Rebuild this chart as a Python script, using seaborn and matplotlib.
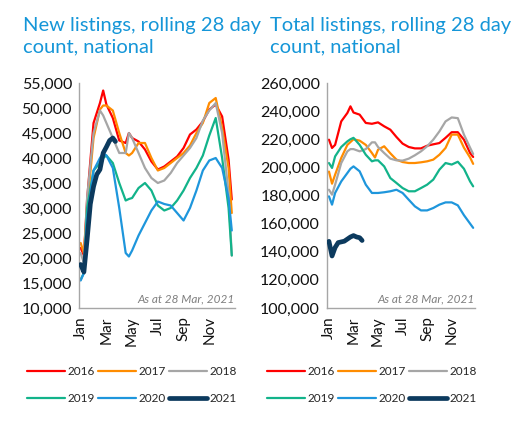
import pandas as pd
import matplotlib.pyplot as plt
import seaborn as sns

# x positions in months (0 = 1 Jan)
months = [0, 0.25, 0.5, 1, 1.5, 1.75, 2, 2.5, 3, 3.5, 3.75, 4, 4.5, 5, 5.5,
          6, 6.5, 7, 7.5, 8, 8.5, 9, 9.5, 10, 10.5, 11, 11.5, 11.75]
months_2021 = [0, 0.25, 0.5, 0.75, 1, 1.25, 1.5, 1.75, 2, 2.25, 2.5, 2.7]

years = ['2016', '2017', '2018', '2019', '2020', '2021']
colors = ['#FF0000', '#FF8C00', '#A6A6A6', '#12B38A', '#1E96DC', '#0C3A5E']

# New listings, rolling 28 day count
new_2016 = [22000, 20500, 31700, 47000, 51000, 53500, 50700, 48000, 43500, 43000, 45000, 44000, 43300, 41700,
            39300, 37700, 38300, 39300, 40300, 42000, 44700, 45700, 47300, 49700, 50700, 48300, 39700, 31700]
new_2017 = [23000, 21000, 30000, 44000, 49700, 50500, 50500, 49500, 45000, 41000, 40500, 41000, 43000, 43000,
            40000, 37500, 38000, 39000, 40000, 41000, 42500, 45000, 47000, 51000, 52000, 46000, 38000, 29000]
new_2018 = [21000, 19000, 32000, 45000, 49500, 48500, 47000, 44000, 41000, 41000, 45000, 44000, 41000, 38000,
            36000, 35000, 35500, 37000, 39000, 40500, 42000, 44000, 47500, 49500, 51000, 45000, 33000, 20500]
new_2019 = [15700, 17000, 30000, 37500, 39000, 40000, 40500, 39000, 35000, 31500, 31800, 32000, 34000, 35000,
            33500, 30500, 29500, 30000, 31500, 33500, 36000, 38000, 40500, 44500, 48000, 40000, 30000, 20500]
new_2020 = [15500, 17000, 28000, 37500, 40000, 41000, 40500, 38000, 30000, 21000, 20300, 21500, 24500, 27000,
            29500, 31300, 30800, 30500, 29000, 27500, 30000, 33500, 37500, 39500, 40000, 38000, 32000, 25500]
new_2021 = [18700, 17200, 23700, 30800, 34300, 36700, 37700, 41000, 42200, 43500, 44000, 43300]

# Total listings, rolling 28 day count
tot_2016 = [219700, 213800, 216000, 232700, 238700, 243400, 239000, 237500, 231600, 231000, 231500, 232000,
            229200, 226800, 221600, 216900, 214500, 213500, 213500, 215400, 216400, 217300, 221000, 225000,
            225000, 219700, 210200, 207400]
tot_2017 = [197000, 188400, 194800, 206700, 216000, 218000, 220000, 219000, 216000, 210200, 207000, 212600,
            215000, 210000, 205500, 203800, 203100, 203100, 203600, 204300, 205500, 209000, 213800, 223300,
            223300, 214000, 207000, 202500]
tot_2018 = [184100, 180600, 187700, 203100, 211400, 213000, 213000, 211400, 213000, 217800, 217800, 214500,
            210200, 206200, 205000, 204800, 206200, 208600, 211400, 215000, 219700, 225600, 232700, 235500,
            235000, 223300, 214000, 209500]
tot_2019 = [203100, 199600, 207800, 214500, 218500, 220000, 221000, 216000, 209000, 204300, 205000, 205000,
            200700, 192400, 188900, 185300, 183000, 183000, 185300, 187700, 191300, 198400, 203100, 202000,
            204000, 199000, 190000, 186500]
tot_2020 = [179400, 173500, 181800, 190000, 196000, 199000, 200700, 197200, 187700, 181800, 181800, 181800,
            182300, 183000, 184100, 181800, 177000, 172300, 169400, 169400, 171100, 173500, 175100, 175100,
            173000, 166000, 160000, 157000]
tot_2021 = [147400, 137000, 143000, 146500, 147000, 147500, 149000, 150500, 151500, 150500, 150000, 148000]

month_ticks = [0, 2, 4, 6, 8, 10]
month_labels = ['Jan', 'Mar', 'May', 'Jul', 'Sep', 'Nov']

sns.set_theme(style='white')
plt.rcParams['font.family'] = ['Lato', 'DejaVu Sans']

W, H = 514, 423
fig = plt.figure(figsize=(W / 100, H / 100), dpi=100)


def draw_panel(ax, series, ylim, yticks, xlim):
    for i, (y, vals) in enumerate(zip(years, series)):
        x = months_2021 if y == '2021' else months
        sns.lineplot(x=x, y=vals, ax=ax, color=colors[i], linewidth=3.4 if y == '2021' else 1.6,
                     label=y, zorder=3 if y == '2021' else 2)
    ax.set_xlim(*xlim)
    ax.set_ylim(*ylim)
    ax.set_yticks(yticks)
    ax.set_yticklabels([f'{v:,}' for v in yticks], fontsize=11.5, color='#111111')
    ax.set_xticks(month_ticks)
    ax.set_xticklabels(month_labels, rotation=90, fontsize=11, color='#111111')
    ax.tick_params(length=0, axis='y', pad=5)
    ax.tick_params(length=0, axis='x', pad=6)
    for s in ['top', 'right']:
        ax.spines[s].set_visible(False)
    for s in ['left', 'bottom']:
        ax.spines[s].set_color('#A6A6A6')
        ax.spines[s].set_linewidth(1.0)
    ax.text(0.995, 0.015, 'As at 28 Mar, 2021', transform=ax.transAxes, ha='right', va='bottom',
            fontsize=8.5, style='italic', color='#7F7F7F')
    ax.set_xlabel('')
    ax.set_ylabel('')


def add_legend(ax, x_px):
    h, l = ax.get_legend_handles_labels()
    order = [0, 3, 1, 4, 2, 5]
    ax.legend([h[k] for k in order], [l[k] for k in order], ncol=3, frameon=False,
              loc='upper left', bbox_to_anchor=(x_px / W, 1 - 366 / H), bbox_transform=fig.transFigure,
              fontsize=8.5, handlelength=3.2, handletextpad=0.25, columnspacing=0.25,
              labelspacing=1.35, borderpad=0, borderaxespad=0)


ax1 = fig.add_axes([79 / W, 1 - 308 / H, 156 / W, 225 / H])
draw_panel(ax1, [new_2016, new_2017, new_2018, new_2019, new_2020, new_2021], (10000, 55000),
           list(range(10000, 55001, 5000)), (-0.13, 12.0))
add_legend(ax1, 27)

ax2 = fig.add_axes([327 / W, 1 - 308 / H, 148 / W, 225 / H])
draw_panel(ax2, [tot_2016, tot_2017, tot_2018, tot_2019, tot_2020, tot_2021], (100000, 260000),
           list(range(100000, 260001, 20000)), (-0.16, 11.9))
add_legend(ax2, 267)

title_color = '#1596D8'
fig.text(23 / W, 1 - 17 / H, 'New listings, rolling 28 day\ncount, national', ha='left', va='top',
         fontsize=14.5, color=title_color, linespacing=1.3)
fig.text(270 / W, 1 - 17 / H, 'Total listings, rolling 28 day\ncount, national', ha='left', va='top',
         fontsize=14.5, color=title_color, linespacing=1.3)

fig.savefig('out.png', dpi=100)
